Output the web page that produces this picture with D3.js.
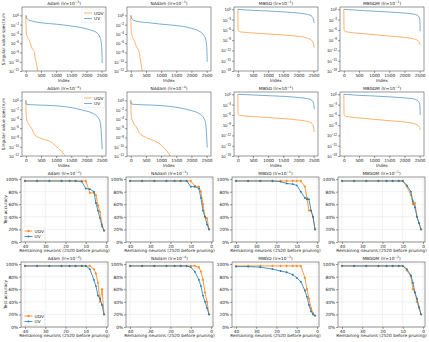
<!DOCTYPE html>
<html>
<head>
<script src="https://d3js.org/d3.v7.min.js"></script>
<style>
  body { margin: 0; background: #fff; }
  svg { font-family: "DejaVu Sans", sans-serif; }
</style>
</head>
<body>
<svg width="429" height="342"></svg>
<script>
// titles
var optimizers = ["Adam", "NAdam", "MBGD", "MBGDM"];
var lrHigh = ["-3", "-3", "-1", "-1"];
var lrLow = ["-4", "-4", "-2", "-2"];

// singular value spectra, [index, log10(value)]
var s1AdamUDV = [[0,0],[5,-2],[20,-3.9],[127,-5.6],[179,-6.7],[232,-7.4],[285,-7.8],[306,-9.2],[338,-9.9],[390,-11.9],[420,-13]];
var s1AdamUV = [[0,0],[30,-0.6],[100,-1.0],[250,-1.3],[500,-1.6],[1000,-1.9],[1500,-2.3],[2000,-2.9],[2200,-3.3],[2350,-3.8],[2450,-4.8],[2490,-6.0],[2510,-8.0],[2519,-10.3]];
var s1NAdamUDV = [[0,0],[5,-2],[20,-3.7],[130,-5.8],[190,-6.8],[240,-7.3],[280,-8.0],[310,-9.4],[340,-10.5],[380,-12.5]];
var s1NAdamUV = [[0,0],[30,-0.7],[100,-1.1],[300,-1.4],[600,-1.6],[1000,-1.9],[1500,-2.2],[2000,-2.8],[2250,-3.4],[2400,-4.2],[2470,-5.2],[2500,-6.5],[2515,-8.5],[2519,-10]];
var s1MbgdUDV = [[0,0],[3,-3],[10,-6.0],[30,-6.4],[100,-6.6],[500,-6.9],[1000,-7.2],[1500,-7.5],[2000,-7.9],[2300,-8.4],[2450,-9.2],[2500,-10.2],[2519,-11.2]];
var s1MbgdUV = [[0,0],[200,-0.15],[500,-0.3],[1000,-0.5],[1500,-0.75],[1800,-0.95],[2100,-1.2],[2300,-1.5],[2420,-1.9],[2480,-2.5],[2519,-4.0]];
var s1MbgdmUDV = [[0,0],[3,-3],[10,-6.0],[30,-6.4],[100,-6.6],[500,-7.0],[1000,-7.4],[1500,-7.8],[2000,-8.2],[2300,-8.6],[2450,-9.2],[2500,-9.8],[2519,-10.5]];
var s1MbgdmUV = [[0,0],[500,-0.3],[1000,-0.55],[1500,-0.8],[2000,-1.1],[2300,-1.4],[2450,-1.9],[2500,-2.8],[2515,-4.5],[2519,-6.4]];

var s2AdamUDV = [[0,0],[5,-2],[20,-3.8],[80,-5.0],[180,-5.9],[285,-7.4],[500,-8.2],[812,-8.9],[1000,-9.9],[1290,-11.9],[1350,-12.5]];
var s2AdamUV = [[0,0],[10,-0.5],[25,-0.85],[200,-0.95],[800,-1.1],[1340,-1.4],[1870,-2.1],[2290,-3.1],[2450,-4.6],[2500,-8.1],[2519,-10.6]];
var s2NAdamUDV = [[0,0],[5,-2],[20,-3.6],[80,-4.8],[180,-5.7],[280,-7.0],[500,-8.0],[800,-8.8],[1000,-9.6],[1250,-11.5],[1350,-12.5]];
var s2NAdamUV = [[0,0],[10,-0.5],[25,-0.8],[200,-0.9],[800,-1.05],[1340,-1.35],[1870,-2.0],[2290,-3.0],[2450,-4.4],[2500,-7.5],[2519,-10.2]];
var s2MbgdUDV = [[0,0],[3,-3],[10,-5.8],[30,-6.0],[100,-6.2],[500,-6.5],[1000,-6.8],[1500,-7.1],[2000,-7.5],[2300,-7.9],[2450,-8.6],[2500,-9.6],[2519,-11]];
var s2MbgdUV = [[0,0],[500,-0.2],[1000,-0.4],[1500,-0.6],[2000,-0.95],[2300,-1.3],[2450,-1.8],[2500,-2.6],[2519,-4.3]];
var s2MbgdmUDV = [[0,0],[3,-3],[10,-6.0],[30,-6.3],[100,-6.5],[500,-6.9],[1000,-7.3],[1500,-7.7],[2000,-8.1],[2300,-8.5],[2450,-9.1],[2500,-9.7],[2519,-10.4]];
var s2MbgdmUV = [[0,0],[500,-0.3],[1000,-0.5],[1500,-0.75],[2000,-1.05],[2300,-1.35],[2450,-1.9],[2500,-2.9],[2515,-4.3],[2519,-6]];

// pruning: remaining neurons and test accuracy (%)
var remaining = [40, 34, 28, 22, 18, 15, 12, 10, 8, 6, 5, 4, 3, 2, 1];
var a1AdamUDV  = [97,97,97,97,97,97,97,97,78,78,75,58,48,28,18];
var a1AdamUV   = [97,97,97,97,97,97,96,85,84,80,62,50,38,25,18];
var a1NAdamUDV = [97,97,97,97,97,97,97,97,89,88,80,60,40,38,20];
var a1NAdamUV  = [97,97,97,97,97,97,97,88,88,85,70,50,40,28,20];
var a1MbgdUDV  = [97,97,97,97,97,97,97,97,97,88,70,50,50,40,20];
var a1MbgdUV   = [97,97,97,97,96,93,92,90,80,70,68,68,50,40,20];
var a1MbgdmUDV = [97,97,97,97,97,97,97,97,88,75,60,62,40,30,20];
var a1MbgdmUV  = [97,97,97,97,97,97,97,97,90,80,65,55,40,30,20];
var a2AdamUDV  = [97,97,97,97,97,97,97,97,97,92,85,70,40,60,20];
var a2AdamUV   = [97,97,97,97,97,97,97,97,92,75,65,50,45,35,20];
var a2NAdamUDV = [97,97,97,97,97,97,97,97,97,95,88,75,55,40,20];
var a2NAdamUV  = [97,97,97,97,97,97,97,95,88,75,65,50,40,30,20];
var a2MbgdUDV  = [97,97,97,97,97,97,97,97,97,78,60,45,30,22,18];
var a2MbgdUV   = [96,96,95,92,89,87,83,78,72,58,48,35,25,20,18];
var a2MbgdmUDV = [97,97,97,97,97,97,97,97,90,80,60,55,40,30,20];
var a2MbgdmUV  = [97,97,97,97,97,97,97,97,92,82,70,55,45,32,20];

var orange = "#ff7f0e", blue = "#1f77b4";
var svg = d3.select("svg");
var fs = 4.3;

var specLeft = [22, 127, 234, 340], specW = 84;
var accLeft = [21, 126, 232, 338], accW = 87;
var rowTop = [7, 92, 177, 262], rowH = [64, 64, 65, 65];

var specRows = [
  [[s1AdamUDV, s1AdamUV], [s1NAdamUDV, s1NAdamUV], [s1MbgdUDV, s1MbgdUV], [s1MbgdmUDV, s1MbgdmUV]],
  [[s2AdamUDV, s2AdamUV], [s2NAdamUDV, s2NAdamUV], [s2MbgdUDV, s2MbgdUV], [s2MbgdmUDV, s2MbgdmUV]]
];
var accRows = [
  [[a1AdamUDV, a1AdamUV], [a1NAdamUDV, a1NAdamUV], [a1MbgdUDV, a1MbgdUV], [a1MbgdmUDV, a1MbgdmUV]],
  [[a2AdamUDV, a2AdamUV], [a2NAdamUDV, a2NAdamUV], [a2MbgdUDV, a2MbgdUV], [a2MbgdmUDV, a2MbgdmUV]]
];

function supText(sel, pre, exp, post) {
  sel.append("tspan").text(pre);
  sel.append("tspan").attr("dy", -1.8).attr("font-size", fs * 0.72).text(exp.replace("-", "\u2212"));
  if (post) sel.append("tspan").attr("dy", 1.8).text(post);
}

function title(g, w, name, lr) {
  var t = g.append("text").attr("x", w / 2).attr("y", -2.5)
    .attr("text-anchor", "middle").attr("font-size", fs).attr("fill", "#222");
  supText(t, name + " (lr=10", lr, ")");
}

function styleAxis(a) {
  a.select(".domain").remove();
  a.selectAll(".tick line").attr("stroke", "#333").attr("stroke-width", 0.5);
  a.selectAll(".tick text").attr("font-size", fs).attr("fill", "#222").attr("font-family", "DejaVu Sans");
}

var clipId = 0;
function makeClip(g, w, h) {
  clipId++;
  g.append("clipPath").attr("id", "c" + clipId).append("rect").attr("width", w).attr("height", h);
  return "url(#c" + clipId + ")";
}

// singular value spectrum rows
specRows.forEach(function(row, r) {
  row.forEach(function(series, c) {
    var h = rowH[r], w = specW;
    var g = svg.append("g").attr("transform", "translate(" + specLeft[c] + "," + rowTop[r] + ")");
    var adam = c < 2;
    var exps = adam ? [0, -2, -4, -6, -8, -10, -12] : [0, -3, -6, -9, -12, -15, -18];
    var top = adam ? 1.8 : 0.67;
    var x = d3.scaleLinear().domain([-126, 2645]).range([0, w]);
    var y = d3.scaleLog().domain([Math.pow(10, exps[exps.length - 1]), Math.pow(10, top)]).range([h, 0]);

    var xa = g.append("g").attr("transform", "translate(0," + h + ")")
      .call(d3.axisBottom(x).tickValues([0, 500, 1000, 1500, 2000, 2500]).tickSize(2).tickPadding(1).tickFormat(d3.format("d")));
    styleAxis(xa);
    var ya = g.append("g").call(d3.axisLeft(y).tickValues(exps.map(function(e) { return Math.pow(10, e); })).tickSize(2).tickFormat(function() { return ""; }));
    styleAxis(ya);
    ya.selectAll(".tick").each(function(d, i) {
      var t = d3.select(this).append("text").attr("x", -3).attr("dy", "0.35em")
        .attr("text-anchor", "end").attr("font-size", fs).attr("fill", "#222");
      supText(t, "10", String(exps[i]).replace("-", "\u2212"));
    });

    var clip = makeClip(g, w, h);
    var line = d3.line().x(function(d) { return x(d[0]); }).y(function(d) { return y(Math.pow(10, d[1])); }).curve(d3.curveMonotoneX);
    [orange, blue].forEach(function(col, k) {
      g.append("path").datum(series[k]).attr("clip-path", clip)
        .attr("fill", "none").attr("stroke", col).attr("stroke-width", 0.8).attr("opacity", 0.75)
        .attr("d", line);
    });

    g.append("rect").attr("width", w).attr("height", h).attr("fill", "none").attr("stroke", "#333").attr("stroke-width", 0.5);
    title(g, w, optimizers[c], r === 0 ? lrHigh[c] : lrLow[c]);
    g.append("text").attr("x", w / 2).attr("y", h + 10.5).attr("text-anchor", "middle")
      .attr("font-size", fs).attr("fill", "#222").text("Index");

    if (c === 0) {
      g.append("text").attr("transform", "translate(-17," + (h / 2) + ") rotate(-90)")
        .attr("text-anchor", "middle").attr("font-size", fs).attr("fill", "#222").text("Singular value spectrum");
      var lg = g.append("g").attr("transform", "translate(" + (w - 24) + ",2)");
      lg.append("rect").attr("width", 22.5).attr("height", 13.5).attr("rx", 1)
        .attr("fill", "#fff").attr("fill-opacity", 0.8).attr("stroke", "#ddd").attr("stroke-width", 0.4);
      ["UDV", "UV"].forEach(function(lbl, k) {
        var yy = 4 + k * 5.5;
        lg.append("line").attr("x1", 2).attr("x2", 10).attr("y1", yy).attr("y2", yy)
          .attr("stroke", k ? blue : orange).attr("stroke-width", 0.8).attr("opacity", 0.75);
        lg.append("text").attr("x", 12).attr("y", yy).attr("dy", "0.35em").attr("font-size", fs).attr("fill", "#222").text(lbl);
      });
    }
  });
});

// pruning accuracy rows
accRows.forEach(function(row, rr) {
  var r = rr + 2;
  row.forEach(function(series, c) {
    var h = rowH[r], w = accW;
    var g = svg.append("g").attr("transform", "translate(" + accLeft[c] + "," + rowTop[r] + ")");
    var x = d3.scaleLinear().domain([41.95, -0.95]).range([0, w]);
    var y = d3.scaleLinear().domain([0, 103.3]).range([h, 0]);
    var xt = [40, 30, 20, 10, 0], yt = [0, 20, 40, 60, 80, 100];

    g.selectAll(".gx").data(xt).enter().append("line")
      .attr("x1", function(d) { return x(d); }).attr("x2", function(d) { return x(d); })
      .attr("y1", 0).attr("y2", h).attr("stroke", "#e3e3e3").attr("stroke-width", 0.5);
    g.selectAll(".gy").data(yt).enter().append("line")
      .attr("y1", function(d) { return y(d); }).attr("y2", function(d) { return y(d); })
      .attr("x1", 0).attr("x2", w).attr("stroke", "#e3e3e3").attr("stroke-width", 0.5);

    var xa = g.append("g").attr("transform", "translate(0," + h + ")")
      .call(d3.axisBottom(x).tickValues(xt).tickSize(2).tickPadding(1).tickFormat(d3.format("d")));
    styleAxis(xa);
    var ya = g.append("g").call(d3.axisLeft(y).tickValues(yt).tickSize(2).tickPadding(1).tickFormat(function(d) { return d + "%"; }));
    styleAxis(ya);

    var line = d3.line().x(function(d, i) { return x(remaining[i]); }).y(function(d) { return y(d); });
    [orange, blue].forEach(function(col, k) {
      g.append("path").datum(series[k]).attr("fill", "none").attr("stroke", col)
        .attr("stroke-width", 0.8).attr("d", line);
      if (k === 0) {
        g.selectAll(".mo").data(series[k]).enter().append("path")
          .attr("transform", function(d, i) { return "translate(" + x(remaining[i]) + "," + y(d) + ")"; })
          .attr("d", d3.symbol(d3.symbolCross, 3)).attr("fill", col);
      } else {
        g.selectAll(".mb").data(series[k]).enter().append("circle")
          .attr("cx", function(d, i) { return x(remaining[i]); }).attr("cy", function(d) { return y(d); })
          .attr("r", 0.9).attr("fill", col);
      }
    });

    g.append("rect").attr("width", w).attr("height", h).attr("fill", "none").attr("stroke", "#333").attr("stroke-width", 0.5);
    title(g, w, optimizers[c], rr === 0 ? lrHigh[c] : lrLow[c]);
    g.append("text").attr("x", w / 2).attr("y", h + 10).attr("text-anchor", "middle")
      .attr("font-size", fs).attr("fill", "#222").text("Remaining neurons (2520 before pruning)");

    if (c === 0) {
      g.append("text").attr("transform", "translate(-14.5," + (h / 2) + ") rotate(-90)")
        .attr("text-anchor", "middle").attr("font-size", fs).attr("fill", "#222").text("Test accuracy");
      var lg = g.append("g").attr("transform", "translate(1.5," + (h - 15) + ")");
      lg.append("rect").attr("width", 22).attr("height", 13.5).attr("rx", 1)
        .attr("fill", "#fff").attr("fill-opacity", 0.8).attr("stroke", "#ddd").attr("stroke-width", 0.4);
      ["UDV", "UV"].forEach(function(lbl, k) {
        var yy = 4 + k * 5.5, col = k ? blue : orange;
        lg.append("line").attr("x1", 2).attr("x2", 10).attr("y1", yy).attr("y2", yy)
          .attr("stroke", col).attr("stroke-width", 0.8);
        if (k === 0) {
          lg.append("path").attr("transform", "translate(6," + yy + ")").attr("d", d3.symbol(d3.symbolCross, 3)).attr("fill", col);
        } else {
          lg.append("circle").attr("cx", 6).attr("cy", yy).attr("r", 0.9).attr("fill", col);
        }
        lg.append("text").attr("x", 12).attr("y", yy).attr("dy", "0.35em").attr("font-size", fs).attr("fill", "#222").text(lbl);
      });
    }
  });
});
</script>
</body>
</html>
